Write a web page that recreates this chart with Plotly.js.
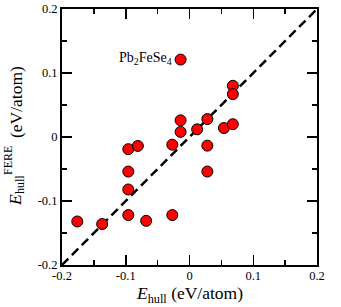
<!DOCTYPE html>
<html>
<head>
<meta charset="utf-8">
<script src="https://cdn.plot.ly/plotly-3.0.1.min.js"></script>
<style>
html,body{margin:0;padding:0;background:#fff;}
#chart{width:341px;height:307px;}
</style>
</head>
<body>
<div id="chart"></div>
<script>
// E_hull (x) vs E_hull^FERE (y), eV/atom
const ehull = [-0.014, -0.014, -0.014, 0.012, 0.068, 0.068, 0.028, 0.054, 0.068,
  -0.096, -0.081, -0.027, -0.096, -0.096, -0.096, -0.068, -0.027, -0.176, -0.137, 0.028, 0.028];
const ehullFere = [0.121, 0.026, 0.008, 0.012, 0.080, 0.067, 0.028, 0.014, 0.020,
  -0.019, -0.014, -0.012, -0.054, -0.082, -0.122, -0.131, -0.122, -0.132, -0.136, -0.0135, -0.054];
const diagonal = [-0.2, 0.2];
const tickVals = [-0.2, -0.1, 0, 0.1, 0.2];
const tickLabels = ['-0.2', '-0.1', '0', '0.1', '0.2'];
const labelText = 'Pb<sub>2</sub>FeSe<sub>4</sub>';
const labelX = ehull[0], labelY = ehullFere[0];
const xTitleText = '<i>E</i><sub>hull</sub> (eV/atom)';

const serif = '"Liberation Serif", "Times New Roman", Times, serif';

const traces = [
  {x: diagonal, y: diagonal, mode: 'lines', type: 'scatter',
   line: {color: '#000', width: 2.5, dash: '9px,5px'}, hoverinfo: 'skip'},
  {x: ehull, y: ehullFere, mode: 'markers', type: 'scatter',
   marker: {size: 11, color: '#ff0000', line: {color: '#000', width: 1}}}
];

function axis(extra) {
  return Object.assign({
    range: [-0.2, 0.2], tickvals: tickVals, ticktext: tickLabels,
    ticks: 'inside', ticklen: 10, tickwidth: 1.5, tickcolor: '#000',
    showline: true, linewidth: 2, linecolor: '#000', mirror: 'allticks',
    showgrid: false, zeroline: false,
    minor: {dtick: 0.05, tick0: 0, ticks: 'inside', ticklen: 5, tickwidth: 1.5, tickcolor: '#000', showgrid: false},
    tickfont: {family: serif, size: 12.5, color: '#000'}
  }, extra);
}

const L = 62, B = 265;
const titleParts = [
  {text: '<i>E</i>', size: 17.5, cx: 15, cy: 200, angle: -90},
  {text: 'hull', size: 12, cx: 20, cy: 185, angle: -90},
  {text: 'FERE', size: 12, cx: 8, cy: 161, angle: -90},
  {text: '(eV/atom)', size: 17.5, cx: 16, cy: 102, angle: -90},
  {text: xTitleText, size: 17.5, cx: 189.5, cy: 294, angle: 0}
];

const annotations = titleParts.map(t => ({
  text: t.text, textangle: t.angle, showarrow: false, borderpad: 0,
  xref: 'paper', yref: 'paper', x: 0, y: 0, xanchor: 'center', yanchor: 'middle',
  xshift: t.cx - L, yshift: B - t.cy,
  font: {family: serif, size: t.size, color: '#000'}
}));
annotations.push({
  text: labelText, x: labelX, y: labelY, xref: 'x', yref: 'y', showarrow: false, borderpad: 0,
  xanchor: 'right', yanchor: 'middle', xshift: -8, yshift: 1,
  font: {family: serif, size: 14, color: '#000'}
});

const layout = {
  width: 341, height: 307,
  margin: {l: 62, r: 24, t: 9, b: 42},
  paper_bgcolor: '#fff', plot_bgcolor: '#fff',
  showlegend: false,
  xaxis: axis({ticklabelstandoff: -2}),
  yaxis: axis({}),
  annotations: annotations
};

Plotly.newPlot('chart', traces, layout, {displayModeBar: false, staticPlot: true});
</script>
</body>
</html>
